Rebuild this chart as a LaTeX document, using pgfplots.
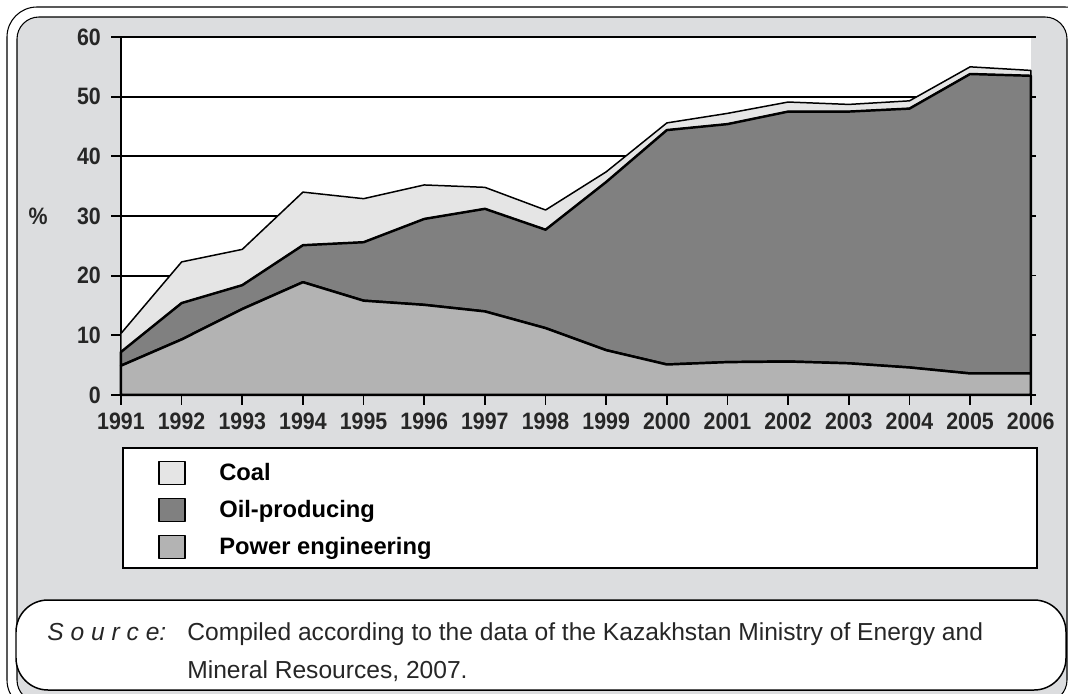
\documentclass[border=0pt]{standalone}
\usepackage{pgfplots}
\pgfplotsset{compat=1.18}
\usepackage{pgfplotstable}
\usepackage{fontspec}
\setmainfont{Liberation Sans}
\newfontfamily\ticknarrow[FakeStretch=0.9]{Liberation Sans Bold}

\definecolor{framegray}{HTML}{DCDDDF}
\definecolor{coalc}{HTML}{E5E5E5}
\definecolor{oilc}{HTML}{808080}
\definecolor{powc}{HTML}{B3B3B3}

% shares by branch, %, stacked
\pgfplotstableread{
year power oil  coal
1991 4.9   2.3  3.1
1992 9.3   6.1  6.9
1993 14.4  4.0  6.0
1994 18.9  6.2  8.9
1995 15.8  9.8  7.3
1996 15.1  14.4 5.7
1997 14.0  17.2 3.6
1998 11.2  16.5 3.3
1999 7.5   28.2 1.7
2000 5.1   39.3 1.2
2001 5.5   39.9 1.8
2002 5.6   41.9 1.6
2003 5.3   42.2 1.2
2004 4.6   43.4 1.3
2005 3.6   50.2 1.2
2006 3.6   49.9 0.9
}\energy

\begin{document}
\begin{tikzpicture}
\begin{scope}[x=0.02cm,y=-0.02cm]
  \useasboundingbox (0,0) rectangle (1068,693);
  \draw[line width=0.6pt, fill=white, rounded corners=0.6cm] (7,7) rectangle (1095,710);
  \draw[line width=0.6pt, fill=framegray, rounded corners=0.44cm] (17,17) rectangle (1067,702);
\end{scope}

\begin{axis}[
  at={(2.42cm,-7.9cm)}, anchor=south west,
  scale only axis, width=18.2cm, height=7.16cm,
  xmin=1991, xmax=2006, ymin=0, ymax=60,
  stack plots=y,
  clip=false,
  axis background/.style={fill=white},
  axis x line*=bottom, axis y line*=left,
  axis line style={line width=1.4pt, -},
  xtick={1991,...,2006}, ytick={0,10,...,60},
  tick align=outside, major tick length=0.2cm,
  tick style={black, line width=1pt},
  ymajorgrids, grid style={black, line width=1pt},
  /pgf/number format/assume math mode=true,
  /pgf/number format/set thousands separator={},
  tick label style={font=\fontsize{13.5}{16}\ticknarrow, text=black!85},
  yticklabel style={xshift=-0.08cm},
  xticklabel style={yshift=-0.04cm},
  ylabel={\%},
  ylabel style={rotate=-90, at={(axis description cs:-0.091,0.5)}, anchor=center, font=\fontsize{13.5}{16}\ticknarrow, text=black!85},
  reverse legend,
  legend cell align=left,
  legend image code/.code={\draw[#1, line width=0.85pt] (0cm,-0.23cm) rectangle (0.52cm,0.23cm);},
  legend style={at={(axis description cs:0.0407,-0.18)}, anchor=north west,
    draw=none, fill=none, inner sep=0pt, row sep=0.2cm,
    font=\fontsize{13.5}{16}\selectfont\bfseries,
    /tikz/every odd column/.append style={column sep=0.6cm}},
]
\addplot[fill=powc, draw=black, line width=1.4pt, line join=round] table[x=year, y=power]{\energy} \closedcycle;
\addplot[fill=oilc, draw=black, line width=1.4pt, line join=round] table[x=year, y=oil]{\energy} \closedcycle;
\addplot[fill=coalc, draw=black, line width=0.85pt, line join=round] table[x=year, y=coal]{\energy} \closedcycle;
\legend{Power engineering, Oil-producing, Coal}
\draw[fill=white, line width=0.85pt] (axis description cs:0.0022,-0.148) rectangle (axis description cs:1.0066,-0.4832);
\end{axis}

% right-hand tick marks
\begin{axis}[
  at={(2.42cm,-7.9cm)}, anchor=south west,
  scale only axis, width=18.2cm, height=7.16cm,
  xmin=1991, xmax=2006, ymin=0, ymax=60,
  hide x axis, axis y line*=right,
  y axis line style={draw=none},
  ytick={0,10,...,60}, yticklabels={},
  tick align=outside, major tick length=0.1cm,
  tick style={black, line width=1pt},
]
\addplot[draw=none] coordinates {(1991,0)};
\end{axis}

\begin{scope}[x=0.02cm,y=-0.02cm]
  \draw[line width=0.85pt, fill=white, rounded corners=0.64cm] (16,600) rectangle (1066,690);
  \node[anchor=base west, inner sep=0pt, font=\fontsize{14}{17}\selectfont\itshape, text=black!85] at (47,640) {S o u r c e:};
  \node[anchor=base west, inner sep=0pt, font=\fontsize{14}{17}\selectfont, text=black!85] at (187,640) {Compiled according to the data of the Kazakhstan Ministry of Energy and};
  \node[anchor=base west, inner sep=0pt, font=\fontsize{14}{17}\selectfont, text=black!85] at (187,678) {Mineral Resources, 2007.};
\end{scope}
\end{tikzpicture}
\end{document}
